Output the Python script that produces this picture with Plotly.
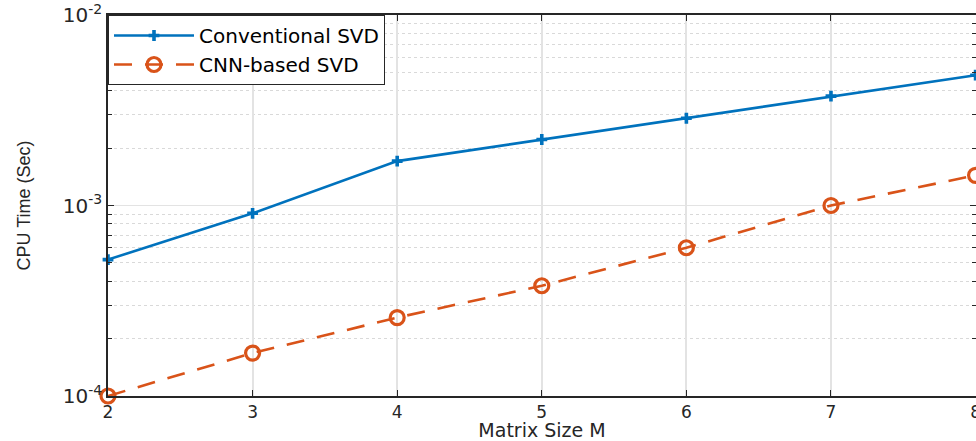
import plotly.graph_objects as go

matrix_size = [2, 3, 4, 5, 6, 7, 8]
conventional_svd = [5.2e-4, 9.1e-4, 1.71e-3, 2.22e-3, 2.87e-3, 3.75e-3, 4.83e-3]
cnn_svd = [1.0e-4, 1.68e-4, 2.58e-4, 3.79e-4, 6.0e-4, 1.0e-3, 1.44e-3]
y_tickvals = [1e-4, 1e-3, 1e-2]
y_ticktext = ["10<sup>-4</sup>", "10<sup>-3</sup>", "10<sup>-2</sup>"]
y_minor = [m * 10.0 ** e for e in (-4, -3) for m in range(2, 10)]

BLUE = "#0072BD"
ORANGE = "#D95319"
FONT = "DejaVu Sans, sans-serif"

fig = go.Figure()
fig.add_trace(go.Scatter(
    x=matrix_size, y=conventional_svd, name="Conventional SVD",
    mode="lines+markers",
    line=dict(color=BLUE, width=2.6),
    marker=dict(symbol="cross", size=9, color=BLUE),
    cliponaxis=False,
))
fig.add_trace(go.Scatter(
    x=matrix_size, y=cnn_svd, name="CNN-based SVD",
    mode="lines+markers",
    line=dict(color=ORANGE, width=2.6, dash="18px,13px"),
    marker=dict(symbol="circle-open", size=14, color=ORANGE, line=dict(width=3.2, color=ORANGE)),
    cliponaxis=False,
))

fig.update_layout(
    width=976, height=441,
    margin=dict(l=108, r=0, t=15, b=45, autoexpand=False),
    paper_bgcolor="white", plot_bgcolor="white",
    font=dict(family=FONT, color="#262626", size=18),
    showlegend=True,
    legend=dict(
        x=0, y=1, xanchor="left", yanchor="top",
        bgcolor="white", bordercolor="#262626", borderwidth=1,
        font=dict(size=20, color="#000000", family=FONT),
        itemwidth=80, tracegroupgap=0,
    ),
)
fig.update_xaxes(
    range=[2, 8.003], tickvals=matrix_size, automargin=False,
    ticklabeloverflow="allow",
    showline=True, linecolor="#262626", linewidth=1.5, mirror="ticks",
    ticks="inside", ticklen=6, tickcolor="#262626",
    showgrid=True, gridcolor="#e3e3e3", gridwidth=1.5,
    zeroline=False,
    tickfont=dict(size=17),
    title=dict(text="Matrix Size M", font=dict(size=19), standoff=3),
)
fig.update_yaxes(
    type="log", range=[-4, -2], automargin=False,
    tickmode="array", tickvals=y_tickvals, ticktext=y_ticktext,
    showline=True, linecolor="#262626", linewidth=1.5, mirror="ticks",
    ticks="inside", ticklen=6, tickcolor="#262626",
    showgrid=True, gridcolor="#e3e3e3", gridwidth=1,
    zeroline=False,
    tickfont=dict(size=20),
    minor=dict(tickmode="array", tickvals=y_minor, ticks="inside", ticklen=4,
               tickcolor="#262626", showgrid=True, gridcolor="#d9d9d9",
               griddash="dot", gridwidth=1),
    title=dict(text="CPU Time (Sec)", font=dict(size=18, family="Liberation Sans, Arial, sans-serif"), standoff=28),
)

fig.write_html(
    "out.html",
    config={"displayModeBar": False},
    post_script="document.body.style.margin='0';document.body.style.overflow='hidden';",
)
